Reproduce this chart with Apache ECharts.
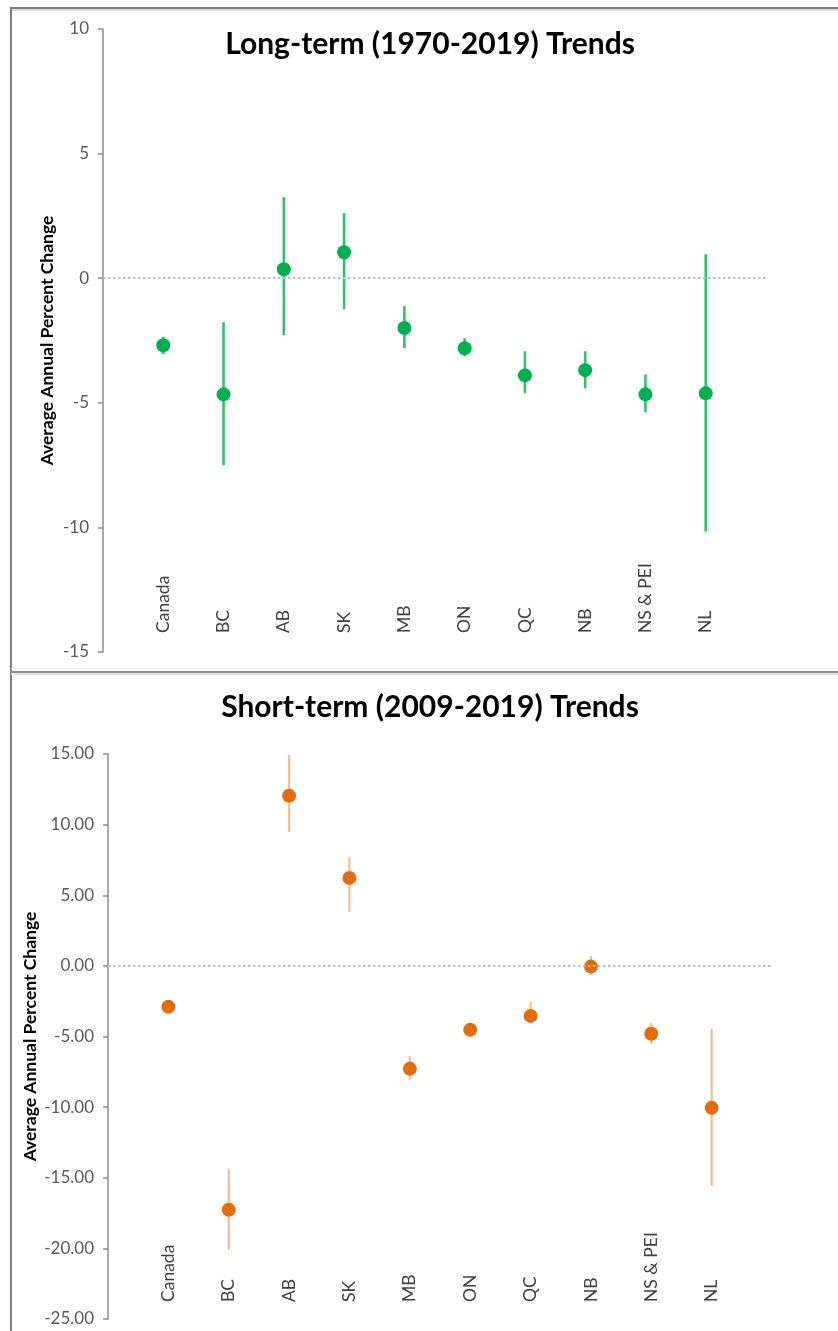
<!DOCTYPE html>
<html><head><meta charset="utf-8">
<script src="https://cdn.jsdelivr.net/npm/echarts@6/dist/echarts.min.js"></script>
<style>html,body{margin:0;padding:0;background:#fff}#c{width:838px;height:1331px}</style>
</head><body><div id="c"></div>
<script>
const categories = ['Canada','BC','AB','SK','MB','ON','QC','NB','NS & PEI','NL'];

const longTitle = 'Long-term (1970-2019) Trends';
const longValues = [-2.69, -4.66, 0.36, 1.04, -2.00, -2.81, -3.90, -3.69, -4.66, -4.62];
const longLow    = [-3.05, -7.51, -2.29, -1.25, -2.80, -3.13, -4.62, -4.42, -5.38, -10.16];
const longHigh   = [-2.35, -1.77, 3.25, 2.61, -1.12, -2.41, -2.93, -2.93, -3.86, 0.96];
const longTicks  = [-15, -10, -5, 0, 5, 10];

const shortTitle = 'Short-term (2009-2019) Trends';
const shortValues = [-2.90, -17.27, 12.04, 6.23, -7.29, -4.53, -3.54, -0.05, -4.81, -10.05];
const shortLow    = [-3.20, -20.10, 9.49, 3.82, -8.07, -4.80, -4.04, -0.64, -5.52, -15.58];
const shortHigh   = [-2.60, -14.40, 14.94, 7.72, -6.37, -4.25, -2.55, 0.70, -4.04, -4.46];
const shortTicks  = [-25, -20, -15, -10, -5, 0, 5, 10, 15];

const yName = 'Average Annual Percent Change';
const FONT = 'Lato';

const chart = echarts.init(document.getElementById('c'), null, {renderer: 'canvas'});

function xAxis(gi) {
  return {
    type: 'value', gridIndex: gi, min: 0, max: categories.length + 1, interval: 1,
    axisLine: {show: false}, axisTick: {show: false}, splitLine: {show: false},
    axisLabel: {
      inside: true, rotate: 90, margin: gi === 0 ? 19 : 17,
      fontFamily: FONT, fontSize: 17.5, color: '#404040',
      formatter: v => categories[v - 1] || ''
    }
  };
}
function yAxis(gi, ticks, digits, nameGap) {
  return {
    type: 'value', gridIndex: gi, min: ticks[0], max: ticks[ticks.length - 1], interval: 5,
    name: yName, nameLocation: 'middle', nameGap: nameGap, nameMoveOverlap: false,
    nameTextStyle: {fontFamily: FONT, fontWeight: 'bold', fontSize: 17.5, color: '#000'},
    axisLine: {show: true, lineStyle: {color: '#8C8C8C', width: 1.5}},
    axisTick: {show: true, length: 5, lineStyle: {color: '#8C8C8C', width: 1.5}},
    splitLine: {show: false},
    axisLabel: {fontFamily: FONT, fontSize: 17, color: '#595959', margin: 14,
      formatter: v => v.toFixed(digits)}
  };
}
function errSeries(gi, low, high, color, width) {
  return {
    type: 'custom', xAxisIndex: gi, yAxisIndex: gi, silent: true, z: 2,
    data: categories.map((c, i) => [i + 1, low[i], high[i]]),
    encode: {x: 0, y: [1, 2]},
    renderItem: (params, api) => {
      const a = api.coord([api.value(0), api.value(1)]);
      const b = api.coord([api.value(0), api.value(2)]);
      return {type: 'line', shape: {x1: a[0], y1: a[1], x2: b[0], y2: b[1]},
        style: {stroke: color, lineWidth: width}};
    }
  };
}
function pointSeries(gi, vals, color) {
  return {
    type: 'scatter', xAxisIndex: gi, yAxisIndex: gi, z: 3,
    symbol: 'circle', symbolSize: 14,
    itemStyle: {color: color, opacity: 1},
    data: categories.map((c, i) => [i + 1, vals[i]]),
    markLine: {
      silent: true, symbol: ['none', 'none'], label: {show: false},
      lineStyle: {color: '#BFBFBF', type: [2.5, 2.5], width: 2},
      data: [{yAxis: 0}]
    }
  };
}

chart.setOption({
  animation: false,
  backgroundColor: '#fff',
  title: [
    {text: longTitle, left: 430, top: 29, textAlign: 'center', padding: 0,
      textStyle: {fontFamily: FONT, fontWeight: 'bold', fontSize: 30, color: '#000'}},
    {text: shortTitle, left: 430, top: 692, textAlign: 'center', padding: 0,
      textStyle: {fontFamily: FONT, fontWeight: 'bold', fontSize: 30, color: '#000'}}
  ],
  grid: [
    {left: 103, right: 72, top: 29, height: 623},
    {left: 108, right: 66, top: 754, height: 565}
  ],
  xAxis: [xAxis(0), xAxis(1)],
  yAxis: [yAxis(0, longTicks, 0, 47), yAxis(1, shortTicks, 2, 69)],
  series: [
    errSeries(0, longLow, longHigh, '#2DC46A', 2.6),
    pointSeries(0, longValues, '#00B050'),
    errSeries(1, shortLow, shortHigh, '#F9BC8F', 2.2),
    pointSeries(1, shortValues, '#E46C0A')
  ],
  graphic: [
    {type: 'line', shape: {x1: 11, y1: 8, x2: 838, y2: 8}, style: {stroke: '#7F7F7F', lineWidth: 2}},
    {type: 'line', shape: {x1: 11, y1: 10, x2: 838, y2: 10}, style: {stroke: '#D0D0D0', lineWidth: 1.5}},
    {type: 'line', shape: {x1: 11, y1: 7, x2: 11, y2: 1331}, style: {stroke: '#7F7F7F', lineWidth: 2}},
    {type: 'line', shape: {x1: 11, y1: 669, x2: 838, y2: 669}, style: {stroke: '#E6E6E6', lineWidth: 1}},
    {type: 'line', shape: {x1: 11, y1: 672, x2: 838, y2: 672}, style: {stroke: '#8C8C8C', lineWidth: 2}},
    {type: 'line', shape: {x1: 11, y1: 674, x2: 838, y2: 674}, style: {stroke: '#DADADA', lineWidth: 1.5}}
  ]
});
</script></body></html>
